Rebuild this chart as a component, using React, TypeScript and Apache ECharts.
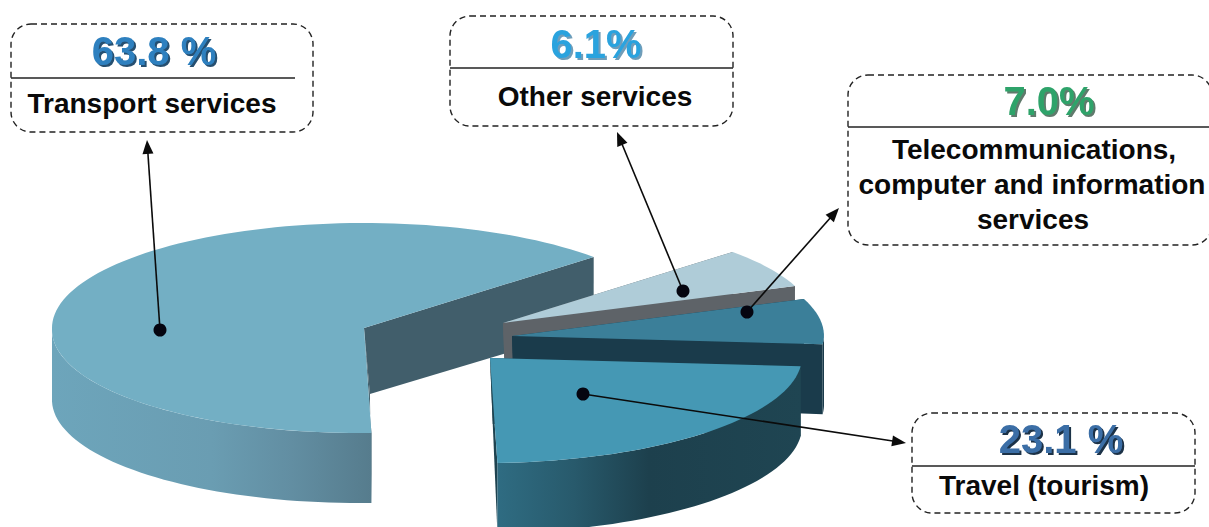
import React, { useEffect, useRef } from "react";
import * as echarts from "echarts";

// Export structure of services, in the order the slices run around the pie.
const categories = ["Transport services", "Travel (tourism)", "Telecommunications, computer and information services", "Other services"];
const shares = [63.8, 23.1, 7.0, 6.1];
const percentLabels = ["63.8 %", "23.1 %", "7.0%", "6.1%"];

const FIRST_ANGLE = 42.6;
const RX = 312;
const RY = 105;
const DEPTH = 70;
const FONT = '"Liberation Sans", Arial, sans-serif';

// Where each exploded slice sits on the page, and how it is painted.
const sliceStyles = [
  {
    cx: 364, cy: 328, z2: 1, top: "#73afc4", wall: "#415e6b",
    rim: [[0, "#6da5bb"], [0.5, "#6a9db2"], [0.75, "#628ea2"], [1, "#567c8d"]],
  },
  {
    cx: 490, cy: 358, z2: 4, top: "#4598b4", wall: "#1e4350",
    rim: [[0, "#2f6c82"], [0.25, "#285a6c"], [0.5, "#1d404d"], [1, "#1f4552"]],
  },
  {
    cx: 512, cy: 336, z2: 3, top: "#3b7f99", wall: "#1a3b4b",
    rim: [[0, "#1a3b4b"], [1, "#1a3b4b"]],
  },
  {
    cx: 503, cy: 323, z2: 2, top: "#afccd8", wall: "#5e6368",
    rim: [[0, "#5e6368"], [1, "#5e6368"]],
  },
];

const callouts = [
  { x: 11, y: 24, w: 302, h: 108, rule: [11, 295, 78], px: 154, py: 51, color: "#2f80bf", shadow: "#27506f", lines: [["Transport services", 152, 103]], fs: 28, dot: [160, 330], tip: [147, 140] },
  { x: 912, y: 413, w: 283, h: 100, rule: [912, 1195, 466], px: 1061, py: 439, color: "#3b6ea6", shadow: "#1f3347", lines: [["Travel (tourism)", 1044, 485]], fs: 28, dot: [583, 394], tip: [906, 443] },
  { x: 848, y: 75, w: 364, h: 170, rule: [848, 1209, 127], px: 1049, py: 101, color: "#2ea36a", shadow: "#5f7a6c", lines: [["Telecommunications,", 1034, 149], ["computer and information", 1032, 184], ["services", 1033, 219]], fs: 28, dot: [747, 312], tip: [839, 208] },
  { x: 450, y: 16, w: 283, h: 110, rule: [450, 733, 68], px: 596, py: 44, color: "#2ba3de", shadow: "#6f9db8", lines: [["Other services", 595, 96]], fs: 28, dot: [683, 291], tip: [617, 132] },
];

const rad = (d: number) => (d * Math.PI) / 180;

// Slice-local ellipse point; the front half leans slightly left, as the tilted camera would show it.
function rimPoint(s: any, deg: number, drop = 0) {
  const sin = Math.sin(rad(deg));
  const lean = sin < 0 ? 5 * -sin : 0;
  return [s.cx + RX * Math.cos(rad(deg)) - lean, s.cy - RY * sin + drop];
}

function arcPoints(s: any, from: number, to: number, drop = 0) {
  const out: number[][] = [];
  const n = Math.max(2, Math.ceil(Math.abs(to - from) / 2));
  for (let i = 0; i <= n; i++) out.push(rimPoint(s, from + ((to - from) * i) / n, drop));
  return out;
}

function renderSlice(params: any, api: any) {
  const i = params.dataIndex;
  const s = sliceStyles[i];
  const total = shares.reduce((a, b) => a + b, 0);
  const before = shares.slice(0, i).reduce((a, b) => a + b, 0);
  const start = FIRST_ANGLE + (360 * before) / total;
  const end = start + (360 * api.value(0)) / total;

  const apexShift = (600 - s.cx) * 0.025;
  const apex = [s.cx, s.cy];
  const apexLow = [s.cx + apexShift, s.cy + DEPTH - 4];
  const children: any[] = [];
  const add = (points: number[][], fill: any, z2: number) =>
    children.push({ type: "polygon", z2, shape: { points }, style: { fill, stroke: null } });

  // Cut faces, then the visible outer wall, then the top of the slice.
  for (const edge of [end, start]) {
    add([apex, rimPoint(s, edge), rimPoint(s, edge, DEPTH), apexLow], s.wall, s.z2 * 10);
  }
  const frontFrom = Math.max(start, 180);
  const frontTo = Math.min(end, 360);
  if (frontTo > frontFrom) {
    const upper = arcPoints(s, frontFrom, frontTo);
    const lower = arcPoints(s, frontFrom, frontTo, DEPTH).reverse();
    const fill = new echarts.graphic.LinearGradient(0, 0, 1, 0,
      s.rim.map(([offset, color]: any) => ({ offset, color })));
    add(upper.concat(lower), fill, s.z2 * 10 + 1);
  }
  add([apex, ...arcPoints(s, start, end)], s.top, s.z2 * 10 + 2);
  return { type: "group", children };
}

function arrowElements(dot: number[], tip: number[]) {
  const angle = Math.atan2(tip[1] - dot[1], tip[0] - dot[0]);
  const back = (len: number, side: number) => [
    tip[0] - len * Math.cos(angle) - side * Math.sin(angle),
    tip[1] - len * Math.sin(angle) + side * Math.cos(angle),
  ];
  return [
    { type: "line", z: 10, shape: { x1: dot[0], y1: dot[1], x2: back(10, 0)[0], y2: back(10, 0)[1] }, style: { stroke: "#0b0b0b", lineWidth: 1.6 } },
    { type: "polygon", z: 10, shape: { points: [tip, back(14, 5.5), back(14, -5.5)] }, style: { fill: "#0b0b0b" } },
    { type: "circle", z: 10, shape: { cx: dot[0], cy: dot[1], r: 6.5 }, style: { fill: "#050510" } },
  ];
}

function calloutElements(c: any, index: number) {
  return [
    { type: "rect", z: 10, shape: { x: c.x, y: c.y, width: c.w, height: c.h, r: 20 }, style: { fill: null, stroke: "#222", lineWidth: 1.4, lineDash: [6, 4] } },
    { type: "line", z: 10, shape: { x1: c.rule[0], y1: c.rule[2], x2: c.rule[1], y2: c.rule[2] }, style: { stroke: "#222", lineWidth: 1.4 } },
    {
      type: "text", z: 10, x: c.px, y: c.py,
      style: {
        text: percentLabels[index], fill: c.color, font: `bold 40px ${FONT}`, align: "center", verticalAlign: "middle",
        textShadowColor: c.shadow, textShadowBlur: 1, textShadowOffsetX: 2, textShadowOffsetY: 2,
        shadowColor: c.shadow, shadowBlur: 1, shadowOffsetX: 2, shadowOffsetY: 2,
      },
    },
    ...c.lines.map(([text, x, y]: any) => ({
      type: "text", z: 10, x, y,
      style: { text, fill: "#0a0a0a", font: `bold ${c.fs}px ${FONT}`, align: "center", verticalAlign: "middle" },
    })),
  ];
}

export default function App() {
  const ref = useRef<HTMLDivElement>(null);
  useEffect(() => {
    const chart = echarts.init(ref.current!, undefined, { renderer: "svg" });
    chart.setOption({
      animation: false,
      backgroundColor: "#ffffff",
      series: [{
        type: "custom",
        coordinateSystem: "none",
        silent: true,
        renderItem: renderSlice,
        data: shares.map((value, i) => ({ name: categories[i], value: [value] })),
      }],
      graphic: {
        elements: callouts.flatMap((c, i) => [...arrowElements(c.dot, c.tip), ...calloutElements(c, i)]),
      },
    });
    return () => chart.dispose();
  }, []);
  return <div ref={ref} style={{ position: "absolute", left: 0, top: 0, width: 1209, height: 527 }} />;
}
